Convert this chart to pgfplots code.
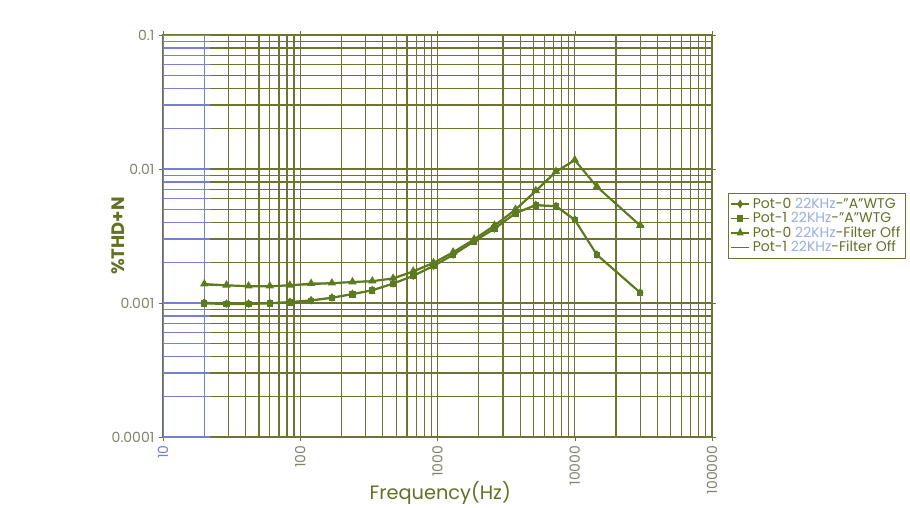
\documentclass[border=0pt]{standalone}
\usepackage{fontspec}
\setmainfont{Poppins}
\usepackage{pgfplots}
\pgfplotsset{compat=1.18}
\definecolor{gridol}{RGB}{108,116,48}
\definecolor{curve}{RGB}{92,122,30}
\definecolor{txtol}{RGB}{100,112,35}
\definecolor{tickgr}{RGB}{130,130,110}
\definecolor{gridbl}{RGB}{120,125,215}
\definecolor{lblue}{RGB}{150,175,230}
\newcommand{\kh}{\textcolor{lblue}{22KHz}}
\begin{document}
\begin{tikzpicture}[x=1pt,y=1pt]
\path[use as bounding box] (0,0) rectangle (682.5,380.25);
\begin{axis}[
  at={(122.25pt,52.5pt)}, anchor=south west,
  scale only axis, width=411.75pt, height=301.5pt,
  xmode=log, ymode=log,
  xmin=10, xmax=100000, ymin=0.0001, ymax=0.1,
  xtick={10,100,1000,10000,100000},
  xticklabels={\textcolor{gridbl}{10},100,1000,10000,100000},
  minor xtick={20,30,40,50,60,70,80,90,200,300,400,500,600,700,800,900,2000,3000,4000,5000,6000,7000,8000,9000,20000,30000,40000,50000,60000,70000,80000,90000},
  ytick={0.0001,0.001,0.01,0.1},
  yticklabels={0.0001,0.001,0.01,0.1},
  minor ytick={0.0002,0.0003,0.0004,0.0005,0.0006,0.0007,0.0008,0.0009,0.002,0.003,0.004,0.005,0.006,0.007,0.008,0.009,0.02,0.03,0.04,0.05,0.06,0.07,0.08,0.09},
  grid=both,
  major grid style={gridol, line width=0.9pt},
  minor grid style={gridol, line width=0.9pt},
  axis line style={gridol, line width=0.9pt},
  tick align=outside, major tick length=3pt, minor tick length=0pt,
  tick style={gridol},
  x tick label style={rotate=90, anchor=east, font=\fontsize{10.5}{12}\selectfont, text=tickgr},
  y tick label style={font=\fontsize{10.5}{12}\selectfont, text=tickgr},
  xlabel={Frequency(Hz)},
  xlabel style={at={(axis description cs:0.505,-0.139)}, anchor=center, font=\fontsize{14.5}{16}\selectfont, text=txtol},
  ylabel={\%THD+N},
  ylabel style={at={(axis description cs:-0.082,0.5)}, anchor=center, rotate=0, font=\fontsize{13.5}{15}\selectfont\bfseries, text=txtol},
  legend style={at={(1.029,0.607)}, anchor=north west, draw=gridol, fill=white,
    font=\fontsize{10.5}{11}\selectfont, text=txtol, row sep=-2.5pt, inner sep=1.5pt},
  legend cell align=left,
  legend image post style={xscale=0.8},
]
\draw[gridbl, line width=0.9pt] (axis cs:20,0.0001) -- (axis cs:20,0.1);
\draw[gridbl, line width=0.9pt] (axis cs:10,0.0001) -- (axis cs:10,0.1);
\pgfplotsinvokeforeach{0.0001,0.0002,0.0003,0.0004,0.0005,0.0006,0.0007,0.0008,0.0009,0.001,0.002,0.003,0.004,0.005,0.006,0.007,0.008,0.009,0.01,0.02,0.03,0.04,0.05,0.06,0.07,0.08,0.09,0.1}{
  \draw[gridbl, line width=0.9pt] (axis cs:10,#1) -- (axis cs:22,#1);
}
% Pot-0 A WTG
\addplot[curve, line width=1.3pt, mark=diamond*, mark size=2.2pt] coordinates {
(20,0.00101)(29,0.00099)(42,0.00099)(60,0.00100)(84,0.00102)(120,0.00105)(170,0.00110)(240,0.00117)(335,0.00125)(475,0.00140)(665,0.00160)(935,0.00190)(1300,0.00230)(1850,0.00290)(2600,0.00360)(3700,0.00470)(5200,0.00540)(7300,0.00530)(10000,0.00420)(14500,0.00230)(30000,0.00120)};
\addlegendentry{Pot-0 \kh-"A"WTG}
% Pot-1 A WTG
\addplot[curve, line width=1.3pt, mark=square*, mark size=1.7pt] coordinates {
(20,0.00099)(29,0.00098)(42,0.00098)(60,0.00099)(84,0.00101)(120,0.00104)(170,0.00109)(240,0.00116)(335,0.00124)(475,0.00139)(665,0.00159)(935,0.00188)(1300,0.00228)(1850,0.00288)(2600,0.00357)(3700,0.00466)(5200,0.00535)(7300,0.00525)(10000,0.00415)(14500,0.00228)(30000,0.00119)};
\addlegendentry{Pot-1 \kh-"A"WTG}
% Pot-0 Filter Off
\addplot[curve, line width=1.3pt, mark=triangle*, mark size=2.4pt] coordinates {
(20,0.00139)(29,0.00136)(42,0.00134)(60,0.00134)(84,0.00136)(120,0.00140)(170,0.00141)(240,0.00144)(335,0.00146)(475,0.00153)(665,0.00173)(935,0.00200)(1300,0.00240)(1850,0.00300)(2600,0.00380)(3700,0.00500)(5200,0.00690)(7300,0.00960)(10000,0.01170)(14500,0.00740)(30000,0.00380)};
\addlegendentry{Pot-0 \kh-Filter Off}
% Pot-1 Filter Off
\addplot[curve, line width=1.3pt, mark=-, mark size=2.5pt] coordinates {
(20,0.00137)(29,0.00135)(42,0.00133)(60,0.00133)(84,0.00135)(120,0.00138)(170,0.00140)(240,0.00143)(335,0.00145)(475,0.00152)(665,0.00171)(935,0.00198)(1300,0.00238)(1850,0.00297)(2600,0.00376)(3700,0.00495)(5200,0.00683)(7300,0.00950)(10000,0.01160)(14500,0.00735)(30000,0.00377)};
\addlegendentry{Pot-1 \kh-Filter Off}
\end{axis}
\end{tikzpicture}
\end{document}
